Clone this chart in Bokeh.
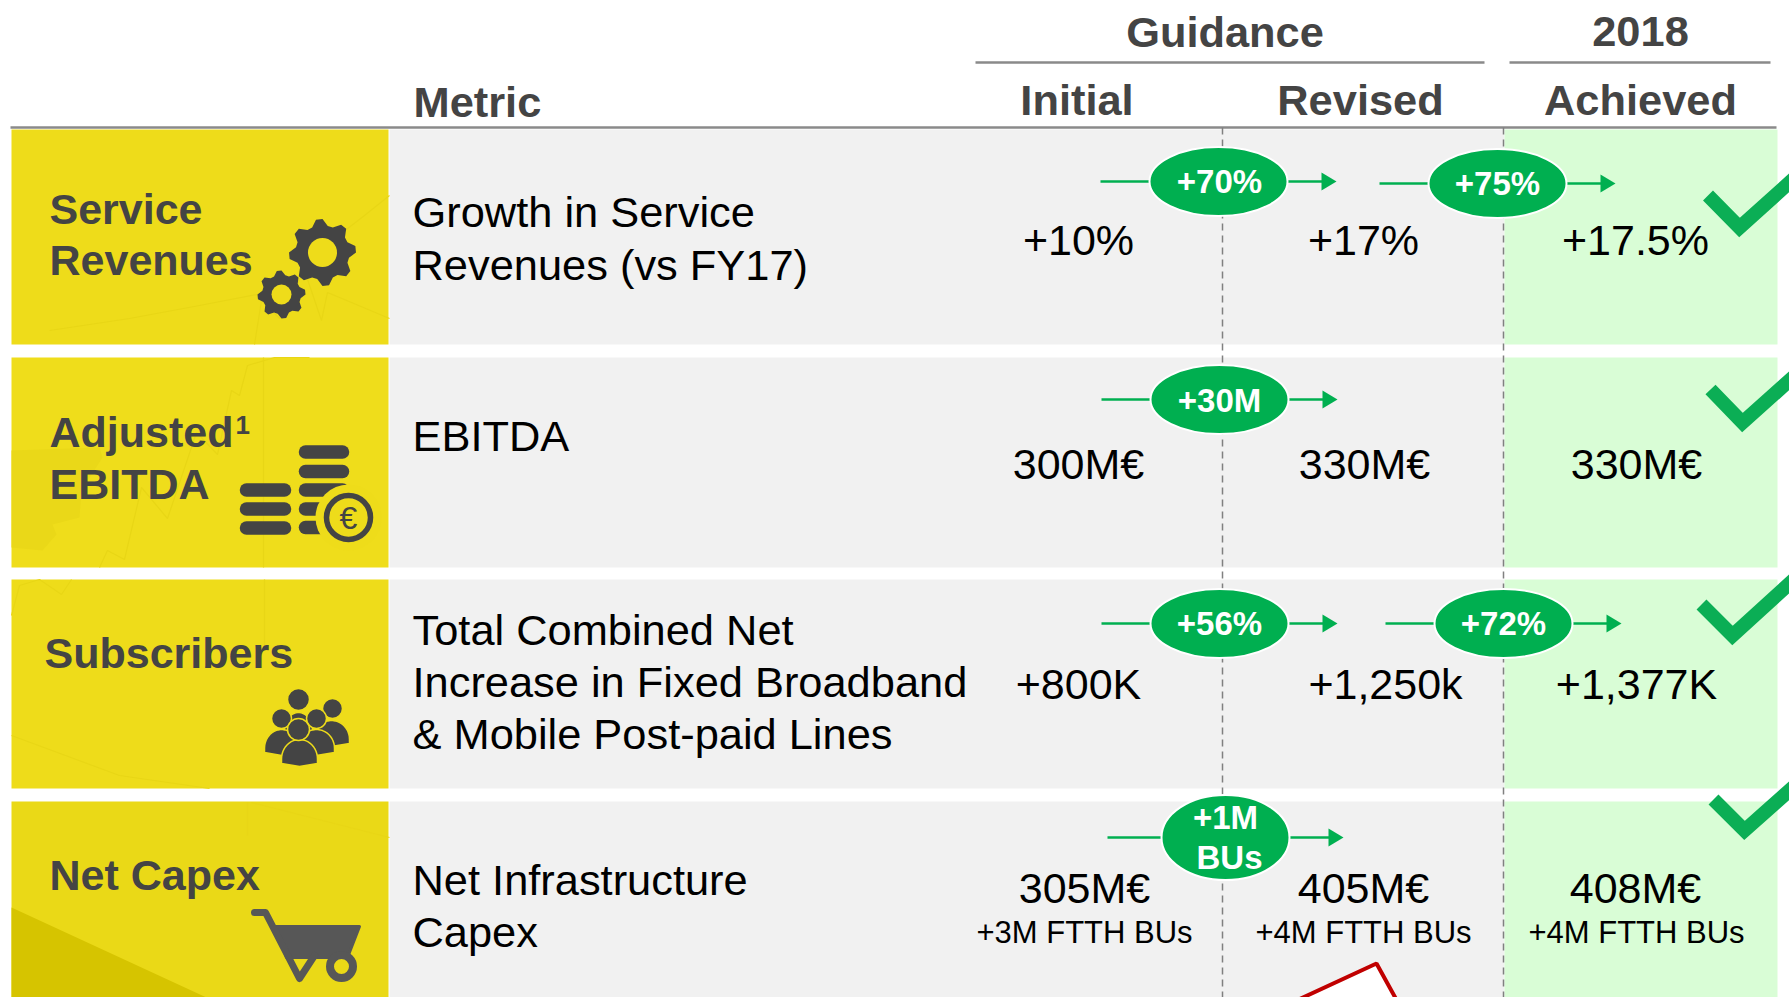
import numpy as np
from bokeh.plotting import figure
from bokeh.embed import file_html
from bokeh.resources import INLINE
from bokeh.core.properties import value

# ---------- chart content ----------
group_headers = ["Guidance", "2018"]
column_headers = ["Metric", "Initial", "Revised", "Achieved"]
category_lines = [["Service", "Revenues"], ["Adjusted", "EBITDA"], ["Subscribers"], ["Net Capex"]]
metric_lines = [
    ["Growth in Service", "Revenues (vs FY17)"],
    ["EBITDA"],
    ["Total Combined Net", "Increase in Fixed Broadband", "& Mobile Post-paid Lines"],
    ["Net Infrastructure", "Capex"],
]
initial_values = ["+10%", "300M€", "+800K", "305M€"]
revised_values = ["+17%", "330M€", "+1,250k", "405M€"]
achieved_values = ["+17.5%", "330M€", "+1,377K", "408M€"]
sub_labels = ["+3M FTTH BUs", "+4M FTTH BUs", "+4M FTTH BUs"]
pill_labels = ["+70%", "+75%", "+30M", "+56%", "+72%"]
pill_two_line = ["+1M", "BUs"]

# ---------- layout (page pixels of the slide) ----------
W, H = 1789, 997
GRAY, GREEN_BG, DARK, GREEN = "#F1F1F1", "#D9FDD6", "#444444", "#00AF50"
YELLOW = "#EEDC1A"
tile_colors = ["#EEDC1A", "#EFDD1B", "#EEDC1A", "#EAD917"]
RULE = "#8A8A8A"
FONT = value("Liberation Sans")
row_tops = [129, 357, 579, 801]
row_bots = [344, 567, 788, 1010]
X_TILE, X_GRAY, X_GREEN, X_END = 12, 390, 1505, 1778
DASH_X = [1223, 1504]

p = figure(width=W, height=H, x_range=(1, W + 1), y_range=(H, 0), toolbar_location=None,
           output_backend="svg", x_axis_type=None, y_axis_type=None, min_border=0)
p.outline_line_color = None
p.grid.visible = False


def text(x, y, s, size=43, color="#000000", bold=False, align="left"):
    # y is the baseline of the text on the slide
    p.text([x], [y - 0.36 * size], text=[s], text_font=FONT, text_font_size=f"{size}px",
           text_color=color, text_font_style="bold" if bold else "normal",
           text_align=align, text_baseline="alphabetic")


# row backgrounds
p.quad(left=[X_TILE] * 4, right=[X_GRAY - 1] * 4, top=row_tops, bottom=row_bots, fill_color=tile_colors, line_color=None)
p.quad(left=[X_GRAY] * 4, right=[X_GREEN] * 4, top=row_tops, bottom=row_bots, fill_color=GRAY, line_color=None)
p.quad(left=[X_GREEN] * 4, right=[X_END] * 4, top=row_tops, bottom=row_bots, fill_color=GREEN_BG, line_color=None)

# faint picture behind the yellow tiles
SH = "#E8D616"
p.patch([12, 207, 12], [907, 997, 997], fill_color="#D6C400", line_color=None)
p.patch([12, 100, 103, 82, 80, 53, 57, 43, 12], [450, 447, 457, 490, 517, 524, 534, 550, 547],
        fill_color="#EAD818", line_color=None)
faint = [
    ([50, 130, 200, 268], [330, 318, 305, 292]),
    ([255, 262, 280, 305, 322, 328, 352, 390], [344, 300, 318, 270, 320, 292, 302, 318]),
    ([330, 365, 390], [242, 215, 195]),
    ([100, 108, 125, 142, 168, 197, 218, 232, 240, 248, 275, 283, 310], [567, 550, 559, 487, 518, 432, 454, 390, 395, 365, 357, 357, 357]),
    ([12, 20, 40, 62, 72], [615, 585, 579, 594, 579]),
    ([12, 120, 210], [735, 775, 788]),
    ([252, 390], [802, 837]),
    ([248, 248], [802, 835]),
    ([264, 264], [357, 567]),
    ([265, 265], [579, 650]),
]
p.multi_line([f[0] for f in faint], [f[1] for f in faint], line_color=SH, line_width=1.2)

# rules and dashed separators
p.segment([11, 976, 1510], [127, 62, 62], [1777, 1485, 1771], [127, 62, 62], line_color=RULE, line_width=2.5)
p.segment(DASH_X, [127, 127], DASH_X, [H, H], line_color="#808080", line_width=1.5, line_dash="7 5")

# header texts
text(1225.5, 47, group_headers[0], size=43.4, color=DARK, bold=True, align="center")
text(1641, 47, group_headers[1], size=43.4, color=DARK, bold=True, align="center")
text(414, 117, column_headers[0], size=43.4, color=DARK, bold=True)
for cx, s in zip([1077.5, 1361, 1641], column_headers[1:]):
    text(cx, 115, s, size=43.4, color=DARK, bold=True, align="center")

# category texts
cat_pos = [[(50, 224), (50, 275)], [(50, 447), (50, 499)], [(45, 668)], [(50, 890)]]
for lines, pos in zip(category_lines, cat_pos):
    for s, (x, y) in zip(lines, pos):
        text(x, y, s, color=DARK, bold=True)
text(236, 434, "1", size=26, color=DARK, bold=True)

# metric texts
metric_base = [[227, 280], [451], [645, 697, 749], [895, 947]]
for lines, ys in zip(metric_lines, metric_base):
    for s, y in zip(lines, ys):
        text(413, y, s, size=43.4)

# value texts
value_base = [255, 479, 699, 903]
initial_cx = [1079, 1079, 1079, 1085]
revised_cx = [1364, 1365, 1386, 1364]
achieved_cx = [1636, 1637, 1637, 1636]
for i in range(4):
    text(initial_cx[i], value_base[i], initial_values[i], align="center")
    text(revised_cx[i], value_base[i], revised_values[i], align="center")
    text(achieved_cx[i], value_base[i], achieved_values[i], align="center")
for cx, s in zip([1085, 1364, 1637], sub_labels):
    text(cx, 943, s, size=31, align="center")

# pills with their arrows
pill_cx = [1219, 1498, 1220, 1220, 1504, 1226]
pill_cy = [181, 183, 399, 623, 623, 837]
pill_w = [138, 138, 138, 138, 138, 128]
pill_h = [69, 69, 69, 69, 69, 85]
cxa, cya = np.array(pill_cx), np.array(pill_cy)
p.segment(cxa - 118, cya, cxa + 104, cya, line_color=GREEN, line_width=2.5)
p.patches([[c + 103, c + 103, c + 118] for c in pill_cx],
          [[c - 9, c + 9, c] for c in pill_cy], fill_color=GREEN, line_color=None)
p.ellipse(pill_cx, pill_cy, width=pill_w, height=pill_h, fill_color=GREEN, line_color="white", line_width=2)
for s, cx, y in zip(pill_labels, [1220, 1498, 1220, 1220, 1504], [193, 195, 412, 635, 635]):
    text(cx, y, s, size=33, color="white", bold=True, align="center")
text(1226, 829, pill_two_line[0], size=33, color="white", bold=True, align="center")
text(1230, 869, pill_two_line[1], size=33, color="white", bold=True, align="center")

# check marks
checks = [
    ([1708.5, 1740, 1800], [195, 227, 173]),
    ([1711, 1743, 1800], [389, 422, 371]),
    ([1702, 1733, 1800], [604, 635, 574]),
    ([1714, 1745, 1800], [799, 830, 781]),
]
p.multi_line([c[0] for c in checks], [c[1] for c in checks], line_color="#0BAE55", line_width=14,
             line_join="miter", line_cap="butt")

# red callout cut off by the bottom edge
p.patch([1297, 1377, 1399, 1399, 1297], [1000, 963, 1003, 1010, 1010], fill_color="white",
        line_color="#C00000", line_width=4)


# --------- icons ---------
def gear(cx, cy, r_out, r_root, teeth):
    a = np.linspace(0, 2 * np.pi, teeth * 4, endpoint=False) + np.pi / 2 - np.pi / teeth * 0.5
    r = np.tile([r_out, r_out, r_root, r_root], teeth)
    return cx + r * np.cos(a), cy + r * np.sin(a)


for cx, cy, ro, rr, rh, n in [(323, 252, 33.5, 27, 14.5, 8), (282, 294, 24, 19.5, 10, 8)]:
    gx, gy = gear(cx, cy, ro, rr, n)
    p.patch(gx, gy, fill_color=DARK, line_color=None)
    p.circle([cx], [cy], radius=rh, fill_color=YELLOW, line_color=None)

# coins
bar_r = [451.5, 471, 489.5, 508.5, 527]
bar_l = [489.5, 508.5, 527.5]
p.segment([306] * 5, bar_r, [343] * 5, bar_r, line_color=DARK, line_width=13.5, line_cap="round")
p.segment([247] * 3, bar_l, [285] * 3, bar_l, line_color=DARK, line_width=13.5, line_cap="round")
p.circle([349], [517], radius=33, fill_color=YELLOW, line_color=None)
p.circle([349], [517], radius=22, fill_color=YELLOW, line_color=DARK, line_width=5.5)
text(349, 529, "€", size=32, color=DARK, align="center")


# people
def body(cx, top, bottom, hw):
    t = np.linspace(np.pi, 2 * np.pi, 24)
    xs = cx + hw * np.cos(t)
    ys = top + (bottom - top) * 0.75 * (1 + np.sin(t))
    xs = np.r_[xs, cx + hw, cx, cx - hw]
    ys = np.r_[ys, bottom - 2, bottom + 1, bottom - 2]
    return xs, ys


people = [
    (299, 699, 11, 299, 712, 735, 14),
    (333, 708, 10, 332, 720, 745, 18),
    (282, 718, 10, 282, 729, 754, 17),
    (317, 718, 10, 317, 729, 754, 18),
    (299, 729, 11, 300, 739, 765, 18),
]
for hx, hy, hr, bx, top, bot, hw in people:
    xs, ys = body(bx, top, bot, hw)
    p.patch(xs, ys, fill_color=DARK, line_color=YELLOW, line_width=1.5)
    p.circle([hx], [hy], radius=hr, fill_color=DARK, line_color=YELLOW, line_width=1.5)

# cart
CART = "#575757"
p.patch([277, 360, 348, 287], [926, 926, 957, 957], fill_color=CART, line_color=CART, line_width=3, line_join="round")
p.multi_line([[255, 266, 300, 315]], [[912, 912, 978, 955]], line_color=CART, line_width=7,
             line_join="round", line_cap="round")
p.circle([342], [966], radius=11.5, fill_color="#EAD917", line_color=CART, line_width=8)

open("out.html", "w").write(file_html(p, INLINE))
